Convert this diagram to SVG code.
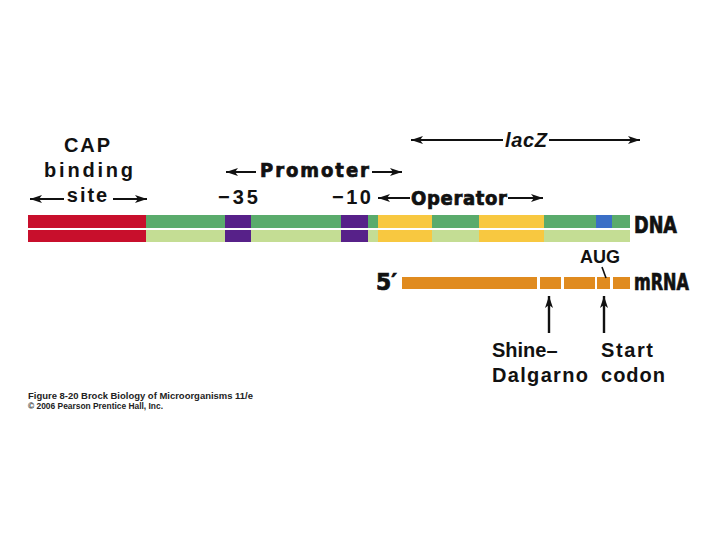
<svg xmlns="http://www.w3.org/2000/svg" width="720" height="540" viewBox="0 0 720 540">
<defs>
<style>
.lbl{font-family:"Liberation Sans",Arial,sans-serif;font-weight:700;fill:#111}
.cnd{font-family:"DejaVu Sans Condensed","Liberation Sans Narrow","Liberation Sans",sans-serif;font-weight:700;fill:#111;stroke:#111;stroke-width:0.7}
.cap{font-family:"Liberation Sans",sans-serif;font-weight:700;fill:#222}
.arr{stroke:#111;stroke-width:2;fill:none}
.red{fill:#c80f2c}.grn{fill:#5aab6c}.lgr{fill:#c4dd94}.pur{fill:#572189}.yel{fill:#f8c840}.blu{fill:#3b6fc6}.org{fill:#e08b1f}
</style>
<marker id="ah" viewBox="0 0 12 8" refX="12" refY="4" markerWidth="12" markerHeight="8" markerUnits="userSpaceOnUse" orient="auto">
<path d="M0,0 L12,4 L0,8 L3,4 Z" fill="#111"/>
</marker>
<marker id="ahb" viewBox="0 0 8 12" refX="4" refY="0" markerWidth="8" markerHeight="12" markerUnits="userSpaceOnUse" orient="0">
<path d="M0,12 L4,0 L8,12 L4,9 Z" fill="#111"/>
</marker>
</defs>
<rect width="720" height="540" fill="#fff"/>

<g id="dna">
<rect class="red" x="28" y="215" width="118" height="13"/>
<rect class="grn" x="146" y="215" width="79" height="13"/>
<rect class="pur" x="225" y="215" width="26" height="13"/>
<rect class="grn" x="251" y="215" width="90" height="13"/>
<rect class="pur" x="341" y="215" width="27" height="13"/>
<rect class="grn" x="368" y="215" width="10" height="13"/>
<rect class="yel" x="378" y="215" width="54" height="13"/>
<rect class="grn" x="432" y="215" width="47" height="13"/>
<rect class="yel" x="479" y="215" width="65" height="13"/>
<rect class="grn" x="544" y="215" width="52" height="13"/>
<rect class="blu" x="596" y="215" width="16" height="13"/>
<rect class="grn" x="612" y="215" width="18" height="13"/>
<rect class="red" x="28" y="230" width="118" height="12"/>
<rect class="lgr" x="146" y="230" width="79" height="12"/>
<rect class="pur" x="225" y="230" width="26" height="12"/>
<rect class="lgr" x="251" y="230" width="90" height="12"/>
<rect class="pur" x="341" y="230" width="27" height="12"/>
<rect class="lgr" x="368" y="230" width="10" height="12"/>
<rect class="yel" x="378" y="230" width="54" height="12"/>
<rect class="lgr" x="432" y="230" width="47" height="12"/>
<rect class="yel" x="479" y="230" width="65" height="12"/>
<rect class="lgr" x="544" y="230" width="86" height="12"/>
<text class="cnd" x="634" y="233" font-size="23" textLength="43" lengthAdjust="spacingAndGlyphs">DNA</text>
</g>

<g id="mrna">
<rect class="org" x="402" y="277" width="135" height="12"/>
<rect class="org" x="540" y="277" width="21" height="12"/>
<rect class="org" x="564" y="277" width="31" height="12"/>
<rect class="org" x="597" y="277" width="13" height="12"/>
<rect class="org" x="613" y="277" width="17" height="12"/>
<text class="cnd" x="376" y="290" font-size="23" textLength="21" lengthAdjust="spacingAndGlyphs">5′</text>
<text class="cnd" x="634" y="290" font-size="23" textLength="55" lengthAdjust="spacingAndGlyphs">mRNA</text>
</g>

<g id="cap-label">
<text class="lbl" x="88" y="152" font-size="20" text-anchor="middle" letter-spacing="2">CAP</text>
<text class="lbl" x="44" y="177" font-size="20" textLength="89" lengthAdjust="spacing">binding</text>
<text class="lbl" x="88" y="202" font-size="20" text-anchor="middle" letter-spacing="2">site</text>
</g>
<g id="promoter-label">
<text class="cnd" x="260" y="177" font-size="20" textLength="109" lengthAdjust="spacing">Promoter</text>
</g>
<g id="m35-label"><text class="lbl" x="218" y="204" font-size="20" letter-spacing="3">−35</text></g>
<g id="m10-label"><text class="lbl" x="332" y="204" font-size="20" letter-spacing="2.5">−10</text></g>
<g id="operator-label">
<text class="cnd" x="411" y="205" font-size="20" textLength="96" lengthAdjust="spacing">Operator</text>
</g>
<g id="lacz-label">
<text class="lbl" x="505" y="147" font-size="20" font-style="italic" textLength="42" lengthAdjust="spacing">lacZ</text>
</g>
<g id="aug-label"><text class="lbl" x="600" y="263" font-size="18" text-anchor="middle">AUG</text></g>
<g id="sd-label">
<text class="lbl" x="492" y="357" font-size="20">Shine–</text>
<text class="lbl" x="492" y="382" font-size="20" textLength="96" lengthAdjust="spacing">Dalgarno</text>
</g>
<g id="start-label">
<text class="lbl" x="601" y="357" font-size="20" textLength="52" lengthAdjust="spacing">Start</text>
<text class="lbl" x="601" y="382" font-size="20" textLength="64" lengthAdjust="spacing">codon</text>
</g>

<g id="connectors">
<line class="arr" x1="64" y1="199" x2="30" y2="199" marker-end="url(#ah)"/>
<line class="arr" x1="113" y1="199" x2="147" y2="199" marker-end="url(#ah)"/>
<line class="arr" x1="256" y1="172" x2="226" y2="172" marker-end="url(#ah)"/>
<line class="arr" x1="372" y1="172" x2="402" y2="172" marker-end="url(#ah)"/>
<line class="arr" x1="410" y1="198" x2="378" y2="198" marker-end="url(#ah)"/>
<line class="arr" x1="508" y1="198" x2="543" y2="198" marker-end="url(#ah)"/>
<line class="arr" x1="503" y1="140" x2="411" y2="140" marker-end="url(#ah)"/>
<line class="arr" x1="549" y1="140" x2="640" y2="140" marker-end="url(#ah)"/>
<line x1="602" y1="267" x2="606" y2="278" stroke="#111" stroke-width="1.6"/>
<line x1="549" y1="333" x2="549" y2="296" stroke="#111" stroke-width="2.4" marker-end="url(#ahb)"/>
<line x1="604" y1="333" x2="604" y2="296" stroke="#111" stroke-width="2.4" marker-end="url(#ahb)"/>
</g>

<g id="caption">
<text class="cap" x="28" y="399" font-size="9" textLength="225" lengthAdjust="spacingAndGlyphs">Figure 8-20  Brock Biology of Microorganisms 11/e</text>
<text class="cap" x="28" y="409" font-size="9" textLength="135" lengthAdjust="spacingAndGlyphs">© 2006 Pearson Prentice Hall, Inc.</text>
</g>
</svg>
